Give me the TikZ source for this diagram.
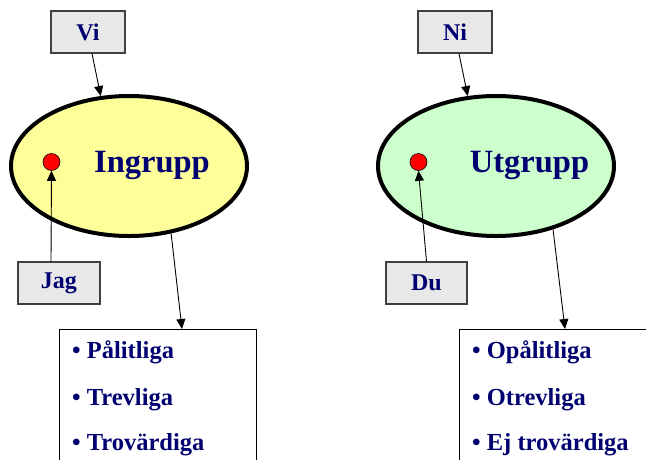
\documentclass[tikz,border=0pt]{standalone}
\usepackage{fontspec}
\setmainfont{Liberation Serif}
\usetikzlibrary{arrows.meta,shapes.geometric,calc}
\definecolor{navytext}{RGB}{0,0,112}
\definecolor{boxgray}{RGB}{232,232,232}
\definecolor{boxline}{RGB}{64,64,64}
\definecolor{ingfill}{RGB}{255,255,153}
\definecolor{utgfill}{RGB}{204,255,204}
\tikzset{
  labelbox/.style={draw=boxline, fill=boxgray, line width=1.2pt, minimum height=42pt,
    inner sep=0pt, text=navytext, font=\fontsize{24}{28}\selectfont\bfseries},
  groupoval/.style={ellipse, draw=black, line width=4pt, minimum width=236pt,
    minimum height=140pt, inner sep=0pt},
  grouptitle/.style={text=navytext, font=\fontsize{32.5}{36}\selectfont\bfseries, inner sep=0pt},
  dot/.style={circle, draw=black, line width=0.6pt, fill=red, minimum size=17pt, inner sep=0pt},
  listbox/.style={draw=black, line width=1pt, fill=white, anchor=north west, inner sep=0pt},
  item/.style={anchor=base west, text=navytext, font=\fontsize{24.5}{28}\selectfont\bfseries, inner sep=0pt},
  arr/.style={-{Triangle[length=10pt,width=9pt]}, line width=0.9pt, draw=black},
}
\begin{document}
\begin{tikzpicture}[x=1pt, y=-1pt]
  \clip (0,0) rectangle (646,459);
  \fill[white] (0,0) rectangle (646,459);

  % ---- in-group (left) ----
  \node[groupoval, fill=ingfill] (ing) at (129,166) {};
  \node[grouptitle] (ingtitle) at (152,165) {Ingrupp};
  \node[dot] (dotL) at (51.5,162) {};
  \node[labelbox, minimum width=74pt] (vi) at (88,32) {Vi};
  \node[labelbox, minimum width=82pt] (jag) at (59,283) {Jag};
  \node[listbox, minimum width=197pt, minimum height=160pt] (inlist) at (59,329) {};
  \node[item] (in1) at (72,358) {• Pålitliga};
  \node[item] (in2) at (72,405) {• Trevliga};
  \node[item] (in3) at (72,450) {• Trovärdiga};

  \draw[arr] ($(vi.south)+(4,0)$) -- (ing.112);
  \draw[arr] ($(jag.north)+(-8,0)$) -- (dotL.south);
  \draw[arr] (ing.-58) -- ($(inlist.north west)+(123,0)$);

  % ---- out-group (right) ----
  \node[groupoval, fill=utgfill] (utg) at (496,166) {};
  \node[grouptitle] (utgtitle) at (529.5,165) {Utgrupp};
  \node[dot] (dotR) at (418.5,162) {};
  \node[labelbox, minimum width=74pt] (ni) at (455,32) {Ni};
  \node[labelbox, minimum width=81pt] (du) at (426.5,283) {Du};
  \node[listbox, minimum width=200pt, minimum height=160pt] (utlist) at (459,329) {};
  \node[item] (ut1) at (472,358) {• Opålitliga};
  \node[item] (ut2) at (472,405) {• Otrevliga};
  \node[item] (ut3) at (472,450) {• Ej trovärdiga};

  \draw[arr] ($(ni.south)+(4,0)$) -- (utg.112);
  \draw[arr] (du.north) -- (dotR.south);
  \draw[arr] (utg.-48) -- ($(utlist.north west)+(106,0)$);
\end{tikzpicture}
\end{document}
